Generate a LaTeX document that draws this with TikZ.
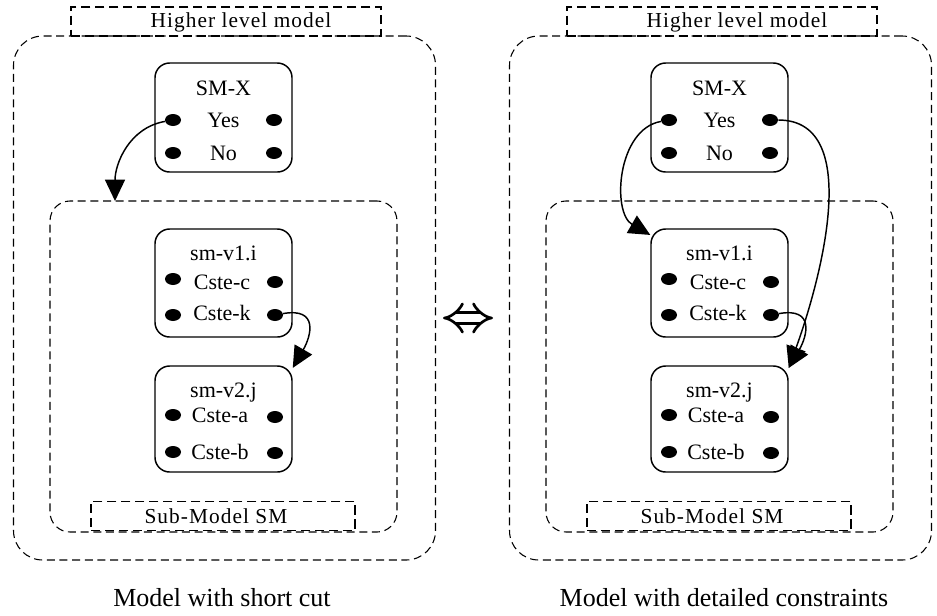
\documentclass[tikz,border=0pt]{standalone}
\usepackage{fontspec}
\setmainfont{Liberation Serif}
\usetikzlibrary{arrows.meta,shapes.geometric}
\tikzset{
  outer/.style={draw, line width=0.8pt, dash pattern=on 6pt off 3.5pt, rounded corners=22pt,
    minimum width=316.5pt, minimum height=393pt},
  inner/.style={draw, line width=0.8pt, dash pattern=on 6pt off 3.5pt, rounded corners=15pt,
    minimum width=260.25pt, minimum height=248.25pt},
  tag/.style={draw, line width=1.1pt, dash pattern=on 7pt off 3.5pt, minimum height=22pt, inner sep=0pt},
  tagtxt/.style={font=\fontsize{16}{18}\selectfont\addfontfeature{LetterSpace=5}, inner sep=0pt},
  smbox/.style={draw, line width=1.1pt, rounded corners=11pt, minimum width=102.75pt},
  txt/.style={font=\fontsize{16.5}{19}\selectfont, text height=11pt, text depth=0pt, inner sep=0pt},
  dot/.style={ellipse, fill, minimum width=12pt, minimum height=9pt, inner sep=0pt},
  captxt/.style={font=\fontsize{19.5}{22}\selectfont, inner sep=0pt},
  conn/.style={line width=1.1pt, -{Triangle[length=16pt,width=15pt]}},
}

\begin{document}
\begin{tikzpicture}[x=0.75pt,y=-0.75pt]
  \useasboundingbox (0,0) rectangle (937,615);
  \foreach \p/\dx in {L/0,R/496}{
    % containers
    \node[outer] (\p-top) at (\dx+224.5,298) {};
    \node[inner] (\p-sub) at (\dx+223.5,366.5) {};
    \node[tag, minimum width=232.5pt] (\p-hl) at (\dx+226,21.5) {};
    \node[tagtxt] (\p-hlt) at (\dx+241,22) {Higher level model};
    \node[tag, minimum width=198pt] (\p-sm) at (\dx+223,516) {};
    \node[tagtxt] (\p-smt) at (\dx+216,516) {Sub-Model SM};
    % SM-X
    \node[smbox, minimum height=81.75pt] (\p-smx) at (\dx+223.5,117.5) {};
    \node[txt] (\p-smxt) at (\dx+223.5,88) {SM-X};
    \node[txt] (\p-yes) at (\dx+223.5,120) {Yes};
    \node[txt] (\p-no) at (\dx+223.5,153) {No};
    \node[dot] (\p-yl) at (\dx+173,120) {};
    \node[dot] (\p-yr) at (\dx+274,120) {};
    \node[dot] (\p-nl) at (\dx+173,153) {};
    \node[dot] (\p-nr) at (\dx+274,153) {};
    % sm-v1.i
    \node[smbox, minimum height=81pt] (\p-v1) at (\dx+223.5,283) {};
    \node[txt] (\p-v1t) at (\dx+223.5,253) {sm-v1.i};
    \node[txt] (\p-c) at (\dx+222,282) {Cste-c};
    \node[txt] (\p-k) at (\dx+222,313) {Cste-k};
    \node[dot] (\p-cl) at (\dx+173,279) {};
    \node[dot] (\p-cr) at (\dx+275,282) {};
    \node[dot] (\p-kl) at (\dx+173,315) {};
    \node[dot] (\p-kr) at (\dx+275,315) {};
    % sm-v2.j
    \node[smbox, minimum height=79.5pt] (\p-v2) at (\dx+223.5,419) {};
    \node[txt] (\p-v2t) at (\dx+223.5,390) {sm-v2.j};
    \node[txt] (\p-a) at (\dx+220,415) {Cste-a};
    \node[txt] (\p-b) at (\dx+220,452) {Cste-b};
    \node[dot] (\p-al) at (\dx+173,415) {};
    \node[dot] (\p-ar) at (\dx+275,417) {};
    \node[dot] (\p-bl) at (\dx+173,452) {};
    \node[dot] (\p-br) at (\dx+275,453) {};
  }
  \node[captxt] (capL) at (222,598) {Model with short cut};
  \node[captxt] (capR) at (724,598) {Model with detailed constraints};

  % equivalence
  \coordinate (eq-l) at (443,318);
  \coordinate (eq-r) at (493,318);
  \draw[line width=2pt, double distance=6pt, {Implies[length=6pt]}-{Implies[length=6pt]}] (eq-l) -- (eq-r);

  % short cut
  \coordinate (L-in) at (115,201);
  \draw[conn] (L-yl) to[out=190,in=90] (L-in);
  \draw[conn] (L-kr) to[out=10,in=60,looseness=1.7] ([yshift=-2pt]L-v2.north east);
  % detailed constraints
  \draw[conn] (R-yl) to[out=190,in=150] ([yshift=-5pt]R-v1.north west);
  \draw[conn] (R-yr) to[out=0,in=70,looseness=0.9] ([yshift=-2pt]R-v2.north east);
  \draw[conn] (R-kr) to[out=10,in=60,looseness=1.7] ([yshift=-2pt]R-v2.north east);
\end{tikzpicture}
\end{document}
